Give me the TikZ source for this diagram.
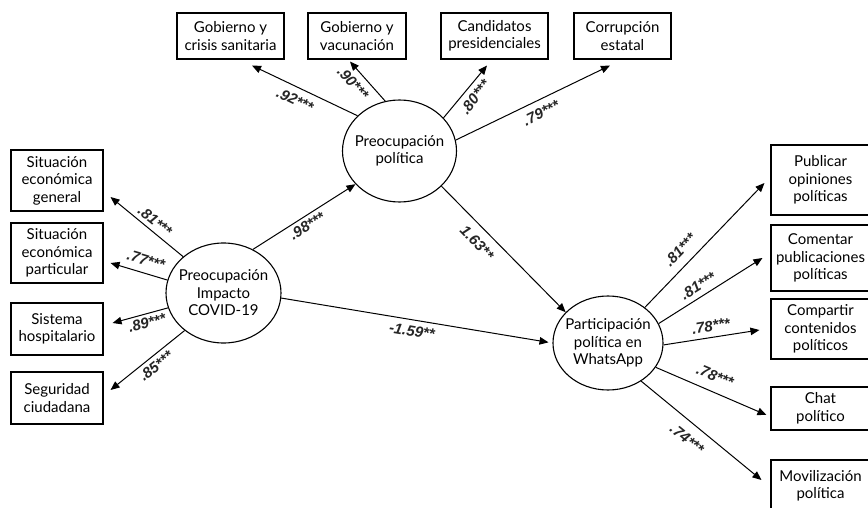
\documentclass[tikz,border=0pt]{standalone}
\usepackage{fontspec}
\setmainfont{Lato}
\newfontfamily\coeffont{Liberation Sans}
\usetikzlibrary{arrows.meta,shapes.geometric}
\begin{document}
\begin{tikzpicture}[x=1pt,y=-1pt,
  every node/.style={font=\fontsize{15}{17.5}\selectfont},
  box/.style={draw, line width=1.1pt, align=center, inner sep=0pt},
  ell/.style={draw, ellipse, line width=1.1pt, inner sep=0pt},
  arr/.style={line width=1pt, -{Triangle[length=9pt,width=7.5pt]}},
  coef/.style={font=\coeffont\fontsize{15}{16}\selectfont\bfseries\itshape, text=black!85, inner sep=0pt}]
\useasboundingbox (0,0) rectangle (868,508);
\clip (0,0) rectangle (868,508);
% top boxes
\node[box, minimum width=107pt, minimum height=46pt] (g1) at (230.5,36) {Gobierno y\\crisis sanitaria};
\node[box, minimum width=98pt, minimum height=46pt] (g2) at (357,36) {Gobierno y\\vacunación};
\node[box, minimum width=107pt, minimum height=46pt] (g3) at (494.5,36) {Candidatos\\presidenciales};
\node[box, minimum width=97pt, minimum height=46pt] (g4) at (622.5,36) {Corrupción\\estatal};
% left boxes
\node[box, minimum width=92pt, minimum height=61pt] (l1) at (57,180.5) {Situación\\económica\\general};
\node[box, minimum width=92pt, minimum height=60pt] (l2) at (57,253) {Situación\\económica\\particular};
\node[box, minimum width=92pt, minimum height=52pt] (l3) at (57,329) {Sistema\\hospitalario};
\node[box, minimum width=92pt, minimum height=52pt] (l4) at (57,398) {Seguridad\\ciudadana};
% right boxes
\node[box, minimum width=99pt, minimum height=70pt] (r1) at (820.5,180) {Publicar\\opiniones\\políticas};
\node[box, minimum width=99pt, minimum height=66pt] (r2) at (820.5,258) {Comentar\\publicaciones\\políticas};
\node[box, minimum width=99pt, minimum height=60pt] (r3) at (820.5,329) {Compartir\\contenidos\\políticos};
\node[box, minimum width=99pt, minimum height=43pt] (r4) at (820.5,408.5) {Chat\\político};
\node[box, minimum width=99pt, minimum height=52pt] (r5) at (820.5,486) {Movilización\\política};
% ellipses
\node[ell, minimum width=114pt, minimum height=102pt,
  label={[align=center]center:Preocupación\\política}] (pp) at (399.5,151) {};
\node[ell, minimum width=115pt, minimum height=100pt,
  label={[align=center]center:Preocupación\\Impacto\\COVID-19}] (pi) at (223.5,293) {};
\node[ell, minimum width=110pt, minimum height=94pt,
  label={[align=center]center:Participación\\política en\\WhatsApp}] (pw) at (608,343) {};
% arrows top
\draw[arr] (pp.140) -- ([xshift=21.5pt,yshift=-6pt]g1.south);
\draw[arr] (pp.106.5) -- ([xshift=-7pt,yshift=-2pt]g2.south);
\draw[arr] (pp.37) -- ([xshift=-7.5pt,yshift=-6pt]g3.south);
\draw[arr] (pp.11) -- ([xshift=-12.5pt,yshift=-6pt]g4.south);
% arrows left
\draw[arr] (pi.138) -- ([xshift=7pt,yshift=-16.5pt]l1.east);
\draw[arr] (pi.167) -- ([xshift=7pt,yshift=-10pt]l2.east);
\draw[arr] (pi.195) -- ([xshift=9pt,yshift=6pt]l3.east);
\draw[arr] (pi.224) -- ([xshift=7pt,yshift=8pt]l4.east);
% structural arrows
\draw[arr] (pi.56.5) -- (pp.217);
\draw[arr] (pp.-40) -- (pw.144);
\draw[arr, shorten >=4pt] (pi.-5) -- (pw.180);
% arrows right
\draw[arr] (pw.44) -- ([xshift=-6pt,yshift=-3pt]r1.west);
\draw[arr] (pw.21) -- ([xshift=-8pt]r2.west);
\draw[arr] (pw.-2) -- ([xshift=-11pt,yshift=-1pt]r3.west);
\draw[arr] (pw.-27) -- ([xshift=-4pt,yshift=-6.5pt]r4.west);
\draw[arr] (pw.-49) -- ([xshift=-9pt,yshift=6pt]r5.west);
% coefficients
\node[coef, rotate=-25.7] (c92) at (295,100) {.92***};
\node[coef, rotate=-48] (c90) at (353,83) {.90***};
\node[coef, rotate=52] (c80) at (475,97) {.80***};
\node[coef, rotate=26] (c79) at (541,113) {.79***};
\node[coef, rotate=-39.4] (c81l) at (155,221) {.81***};
\node[coef, rotate=-16.6] (c77) at (146,260) {.77***};
\node[coef, rotate=15] (c89) at (147,323) {.89***};
\node[coef, rotate=38.5] (c85) at (156,366) {.85***};
\node[coef, rotate=31.5] (c98) at (307,226) {.98***};
\node[coef, rotate=-45.7] (c163) at (477,243) {1.63**};
\node[coef, rotate=-9.6] (c159) at (412,331) {-1.59**};
\node[coef, rotate=46] (c81a) at (680,250) {.81***};
\node[coef, rotate=32] (c81b) at (698,286) {.81***};
\node[coef, rotate=8.7] (c78a) at (711,326) {.78***};
\node[coef, rotate=-23] (c78b) at (715,376) {.78***};
\node[coef, rotate=-39] (c74) at (687,439) {.74***};
\end{tikzpicture}
\end{document}
